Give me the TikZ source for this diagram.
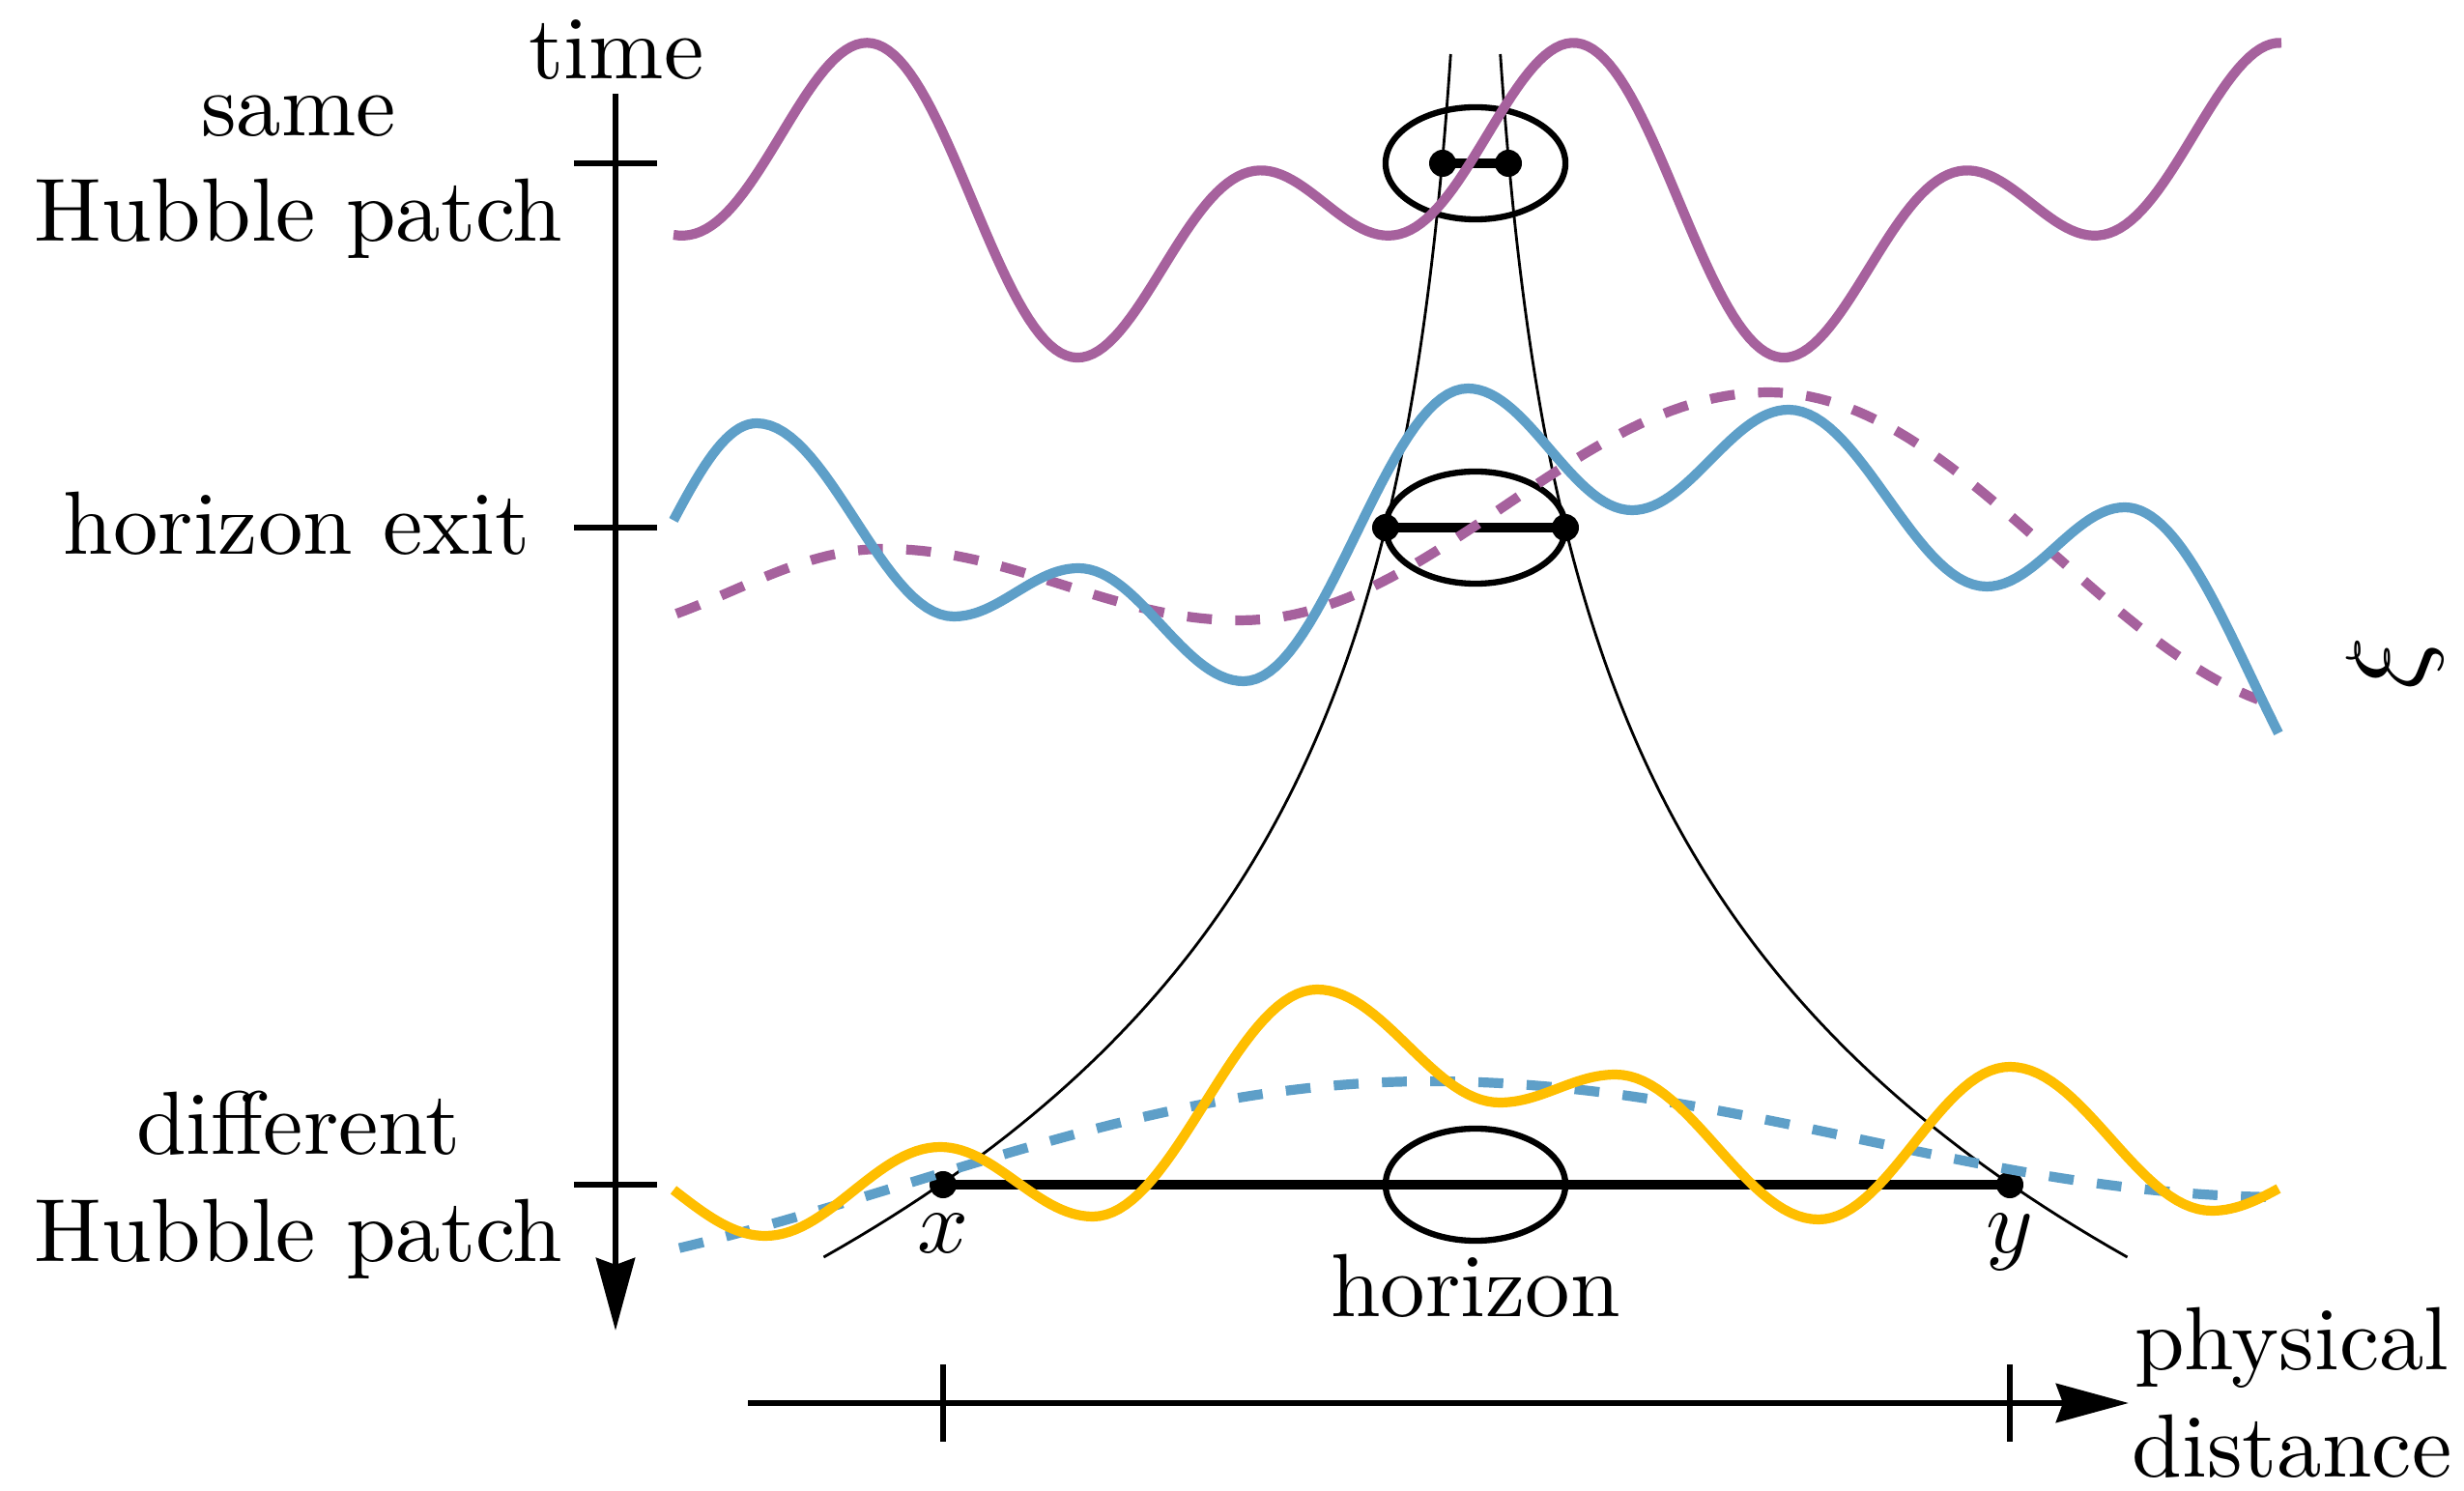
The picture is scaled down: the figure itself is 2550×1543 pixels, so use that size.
\documentclass[tikz,border=0pt]{standalone}
\usepackage{graphicx}
\usetikzlibrary{arrows.meta,shapes.geometric}
\definecolor{cpurple}{RGB}{166,97,157}
\definecolor{cblue}{RGB}{94,159,200}
\definecolor{cyellow}{RGB}{255,190,0}
\newcommand{\lblsc}[1]{\scalebox{2.64}{#1}}
\begin{document}
\begin{tikzpicture}[x=0.01cm, y=-0.01cm,
  declare function={hc(\u,\xa,\ya,\xb,\yb)=(\ya+\yb)/2+(\ya-\yb)/2*cos((\u-\xa)/(\xb-\xa)*180);},
  lbl/.style={inner sep=0pt, anchor=base},
  wavesolid/.style={line width=2.9pt, line join=round},
  dashwave/.style={wavesolid, dash pattern=on 7.3pt off 6.9pt},
  hor/.style={line width=0.8pt},
  axline/.style={line width=1.8pt},
  axtip/.style={-{Stealth[length=0.75cm,width=0.4cm,inset=0.07cm]}},
  blackdot/.style={circle, fill=black, inner sep=0pt, minimum size=0.28cm},
  patchell/.style={ellipse, draw, line width=1.8pt, minimum width=1.86cm, minimum height=1.16cm, inner sep=0pt},
  conn/.style={line width=2.9pt}
]
\useasboundingbox (0,0) rectangle (2550,1543);

% horizon curves
\draw[hor] plot[domain=56:1301, samples=120] ({1527-93*exp(0.00262*(\x-546))}, \x);
\draw[hor] plot[domain=56:1301, samples=120] ({1527+93*exp(0.00262*(\x-546))}, \x);

% Hubble patches
\node[patchell] (e1) at (1527,169) {};
\node[patchell] (e2) at (1527,546) {};
\node[patchell] (e3) at (1527,1226) {};

% points and separations
\node[blackdot] (p1l) at (1493,169) {};
\node[blackdot] (p1r) at (1561,169) {};
\node[blackdot] (p2l) at (1434,546) {};
\node[blackdot] (p2r) at (1620,546) {};
\node[blackdot] (p3l) at (976,1226) {};
\node[blackdot] (p3r) at (2080,1226) {};
\draw[conn] (p1l.center) -- (p1r.center);
\draw[conn] (p2l.center) -- (p2r.center);
\draw[conn] (p3l.center) -- (p3r.center);

% dashed long modes
\draw[dashwave, cpurple]
  plot[domain=700:915, samples=30] (\x,{hc(\x,600,655,915,568)})
  -- plot[domain=915:1283, samples=40] (\x,{hc(\x,915,568,1283,642)})
  -- plot[domain=1283:1830, samples=50] (\x,{hc(\x,1283,642,1830,406)})
  -- plot[domain=1830:2337, samples=50] (\x,{hc(\x,1830,406,2420,740)});
\draw[dashwave, cblue]
  plot[domain=703:1480, samples=60] (\x,{hc(\x,400,1330,1480,1119)})
  -- plot[domain=1480:2355, samples=60] (\x,{hc(\x,1480,1119,2370,1239)});

% solid fields
\draw[wavesolid, cpurple] plot[domain=697:2361, samples=300] (\x, {208.4 - 52.1*cos((\x-712)/731*360) - 76.9*sin((\x-712)/731*360) + 87.1*cos((\x-712)/731*720) + 30.5*sin((\x-712)/731*720)});
\draw[wavesolid, cblue]
  plot[domain=697:783, samples=20] (\x,{hc(\x,603,654,783,438)})
  -- plot[domain=783:987, samples=30] (\x,{hc(\x,783,438,987,638)})
  -- plot[domain=987:1116, samples=25] (\x,{hc(\x,987,638,1116,588)})
  -- plot[domain=1116:1287, samples=30] (\x,{hc(\x,1116,588,1287,705)})
  -- plot[domain=1287:1519, samples=35] (\x,{hc(\x,1287,705,1519,402)})
  -- plot[domain=1519:1689, samples=30] (\x,{hc(\x,1519,402,1689,528)})
  -- plot[domain=1689:1851, samples=30] (\x,{hc(\x,1689,528,1851,424)})
  -- plot[domain=1851:2056, samples=30] (\x,{hc(\x,1851,424,2056,607)})
  -- plot[domain=2056:2199, samples=25] (\x,{hc(\x,2056,607,2199,525)})
  -- plot[domain=2199:2358, samples=30] (\x,{hc(\x,2199,525,2459,873)});
\draw[wavesolid, cyellow]
  plot[domain=697:792, samples=20] (\x,{hc(\x,610,1190,792,1279)})
  -- plot[domain=792:973, samples=30] (\x,{hc(\x,792,1279,973,1187)})
  -- plot[domain=973:1131, samples=30] (\x,{hc(\x,973,1187,1131,1259)})
  -- plot[domain=1131:1363, samples=35] (\x,{hc(\x,1131,1259,1363,1024)})
  -- plot[domain=1363:1552, samples=30] (\x,{hc(\x,1363,1024,1552,1141)})
  -- plot[domain=1552:1672, samples=25] (\x,{hc(\x,1552,1141,1672,1112)})
  -- plot[domain=1672:1882, samples=30] (\x,{hc(\x,1672,1112,1882,1262)})
  -- plot[domain=1882:2080, samples=30] (\x,{hc(\x,1882,1262,2080,1104)})
  -- plot[domain=2080:2289, samples=30] (\x,{hc(\x,2080,1104,2289,1253)})
  -- plot[domain=2289:2358, samples=15] (\x,{hc(\x,2289,1253,2440,1200)});

% time axis
\coordinate (tTop) at (637,97);
\coordinate (tBot) at (637,1377);
\draw[axline, axtip] (tTop) -- (tBot);
\coordinate (tk1) at (637,169);
\coordinate (tk2) at (637,546);
\coordinate (tk3) at (637,1226);
\draw[axline] ([xshift=-0.43cm]tk1) -- ([xshift=0.43cm]tk1);
\draw[axline] ([xshift=-0.43cm]tk2) -- ([xshift=0.43cm]tk2);
\draw[axline] ([xshift=-0.43cm]tk3) -- ([xshift=0.43cm]tk3);

% distance axis
\coordinate (dL) at (774,1452);
\coordinate (dR) at (2203,1452);
\draw[axline, axtip] (dL) -- (dR);
\coordinate (dk1) at (976,1452);
\coordinate (dk2) at (2080,1452);
\draw[axline] ([yshift=0.40cm]dk1) -- ([yshift=-0.40cm]dk1);
\draw[axline] ([yshift=0.40cm]dk2) -- ([yshift=-0.40cm]dk2);

% labels
\node[lbl] (lTime) at (638,82) {\lblsc{time}};
\node[lbl] (lSame) at (309,141) {\lblsc{same}};
\node[lbl] (lHub1) at (309,250) {\lblsc{Hubble patch}};
\node[lbl] (lExit) at (307,574) {\lblsc{horizon exit}};
\node[lbl] (lDiff) at (309,1195) {\lblsc{different}};
\node[lbl] (lHub2) at (309,1306) {\lblsc{Hubble patch}};
\node[lbl] (lHor) at (1527,1363) {\lblsc{horizon}};
\node[lbl] (lx) at (976,1297) {\lblsc{$x$}};
\node[lbl] (ly) at (2080,1297) {\lblsc{$y$}};
\node[lbl] (lPhys) at (2372,1418) {\lblsc{physical}};
\node[lbl] (lDist) at (2372,1528) {\lblsc{distance}};
\node[inner sep=0pt, rotate=90] (xi) at (2478,686) {\scalebox{3.2}{$\xi$}};
\end{tikzpicture}
\end{document}
